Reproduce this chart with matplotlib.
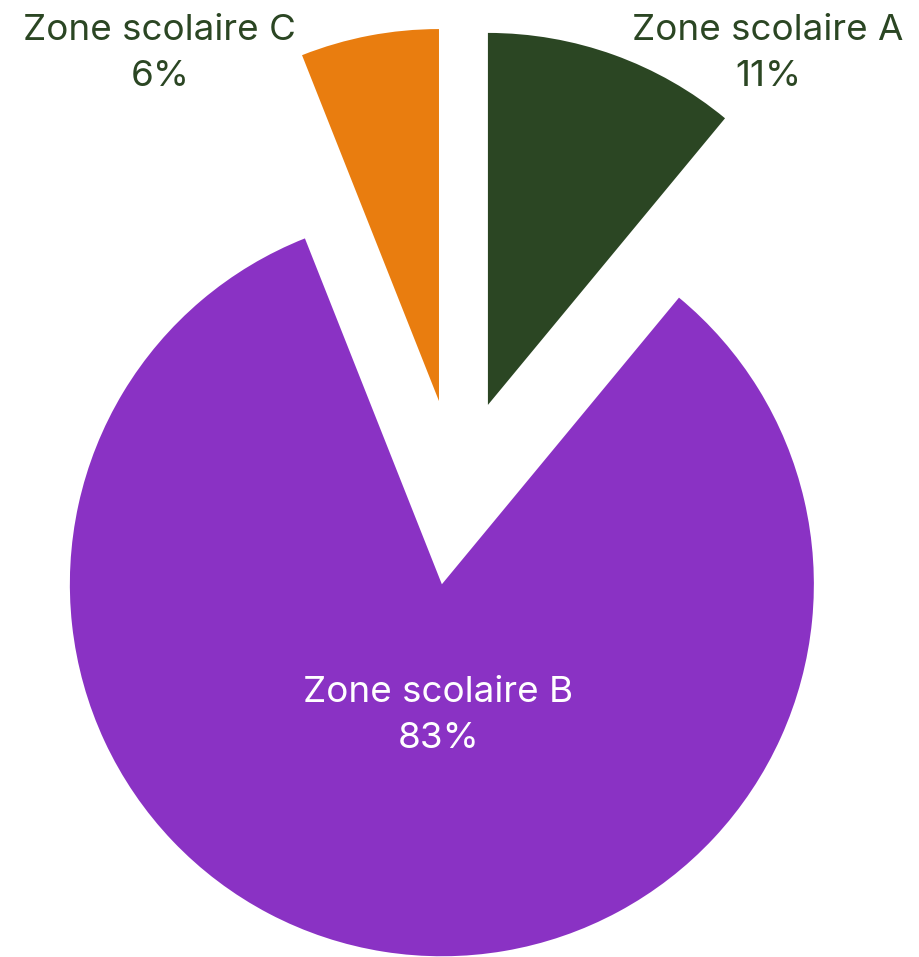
import matplotlib.pyplot as plt

# data
zones = ["Zone scolaire A", "Zone scolaire B", "Zone scolaire C"]
shares = [11, 83, 6]
colors = ["#2B4623", "#8A32C4", "#E97D0F"]
text_colors = ["#2B4623", "#FFFFFF", "#2B4623"]

# label centres in data units (pie radius = 1)
label_pos = [(0.838, 1.181), (-0.049, -0.601), (-0.797, 1.181)]

plt.rcParams["font.family"] = ["Inter", "DejaVu Sans"]

fig = plt.figure(figsize=(9.2, 9.57), dpi=100)
ax = fig.add_axes([0, 0, 1, 1])

ax.pie(
    shares,
    colors=colors,
    startangle=90,
    counterclock=False,
    explode=[0.25] * len(shares),
    radius=1,
    wedgeprops={"linewidth": 0},
)

for name, val, (x, y), c in zip(zones, shares, label_pos, text_colors):
    ax.text(x, y, f"{name}\n{val}%", ha="center", va="center",
            multialignment="center", fontsize=26.5, color=c, linespacing=1.5)

ax.set_aspect("auto")
ax.set_xlim(-1.2269, 1.2462)
ax.set_ylim(-1.2489, 1.3237)
ax.axis("off")

fig.savefig("out.png", dpi=100, facecolor="white")
